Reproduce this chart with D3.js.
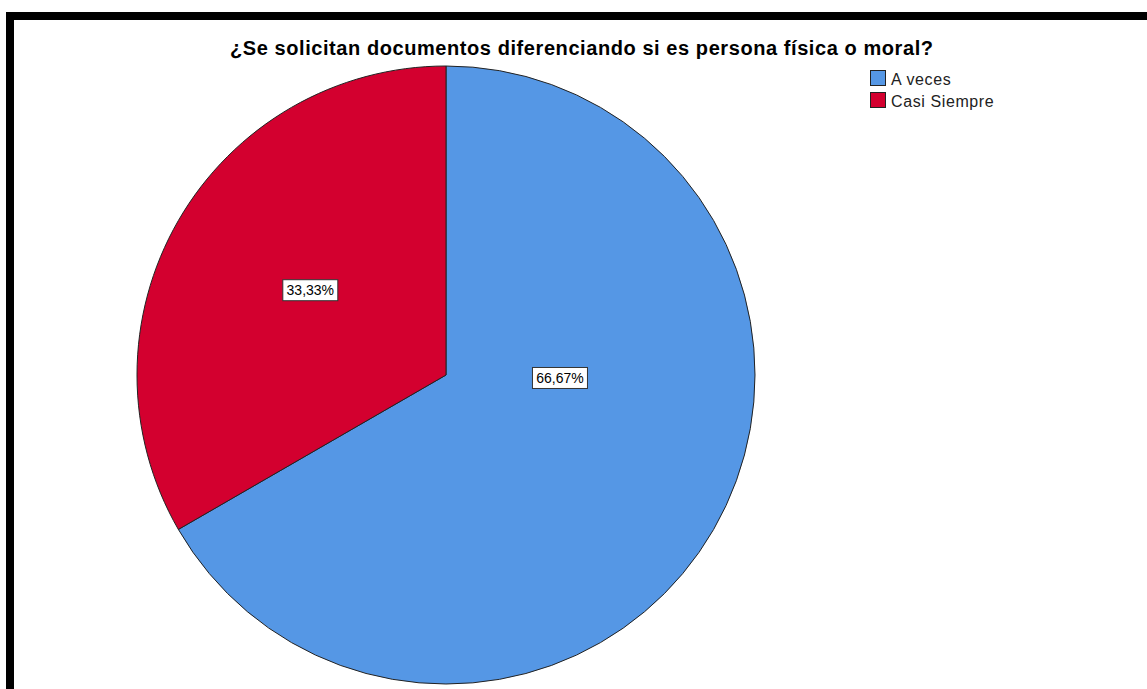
<!DOCTYPE html>
<html>
<head>
<meta charset="utf-8">
<script src="https://cdn.jsdelivr.net/npm/d3@7"></script>
<style>
  html, body { margin: 0; padding: 0; background: #fff; overflow: hidden; }
  svg { display: block; font-family: "Liberation Sans", Arial, sans-serif; }
</style>
</head>
<body>
<svg id="chart" width="1147" height="689"></svg>
<script>
const title = "¿Se solicitan documentos diferenciando si es persona física o moral?";
const categories = ["A veces", "Casi Siempre"];
const values = [66.67, 33.33];
const labels = ["66,67%", "33,33%"];
const colors = ["#5597e5", "#d3002f"];

const W = 1147, H = 689;
const svg = d3.select("#chart");

// frame
svg.append("rect").attr("x", 6).attr("y", 12).attr("width", W).attr("height", 8).attr("fill", "#000");
svg.append("rect").attr("x", 6).attr("y", 12).attr("width", 8).attr("height", H).attr("fill", "#000");

// title
svg.append("text")
  .attr("x", 230).attr("y", 55)
  .attr("font-size", 20).attr("font-weight", "bold")
  .attr("textLength", 703).attr("lengthAdjust", "spacing")
  .attr("fill", "#000")
  .text(title);

// pie
const cx = 446, cy = 375, R = 309;
const pie = d3.pie().sort(null).value(d => d.v);
const data = categories.map((c, i) => ({ c, v: values[i], l: labels[i], col: colors[i] }));
const arcs = pie(data);
const arc = d3.arc().innerRadius(0).outerRadius(R);

const g = svg.append("g").attr("transform", `translate(${cx},${cy})`);
g.selectAll("path.slice").data(arcs).enter().append("path")
  .attr("class", "slice")
  .attr("d", arc)
  .attr("fill", d => d.data.col)
  .attr("stroke", "#222")
  .attr("stroke-width", 1);

// label placement (angle from 12 o'clock clockwise, radius)
const labelPos = [{ a: 91.5, r: 114 }, { a: 302, r: 160 }];
const lab = g.selectAll("g.lab").data(arcs).enter().append("g").attr("class", "lab")
  .attr("transform", (d, i) => {
    const a = labelPos[i].a * Math.PI / 180, r = labelPos[i].r;
    return `translate(${r * Math.sin(a)},${-r * Math.cos(a)})`;
  });
lab.append("rect")
  .attr("x", -27.5).attr("y", -10.5)
  .attr("width", 55).attr("height", 21)
  .attr("fill", "#fff").attr("stroke", "#333").attr("stroke-width", 1);
lab.append("text")
  .attr("text-anchor", "middle").attr("y", 5)
  .attr("font-size", 14).attr("fill", "#000")
  .text(d => d.data.l);

// legend
const leg = svg.append("g").attr("transform", "translate(870,70)");
const li = leg.selectAll("g").data(data).enter().append("g")
  .attr("transform", (d, i) => `translate(0,${i * 22})`);
li.append("rect").attr("x", 0.5).attr("y", 0.5).attr("width", 15).attr("height", 15)
  .attr("fill", d => d.col).attr("stroke", "#222").attr("stroke-width", 1);
li.append("text").attr("x", 21).attr("y", 15)
  .attr("font-size", 16).attr("letter-spacing", 0.6).attr("fill", "#222")
  .text(d => d.c);
</script>
</body>
</html>
